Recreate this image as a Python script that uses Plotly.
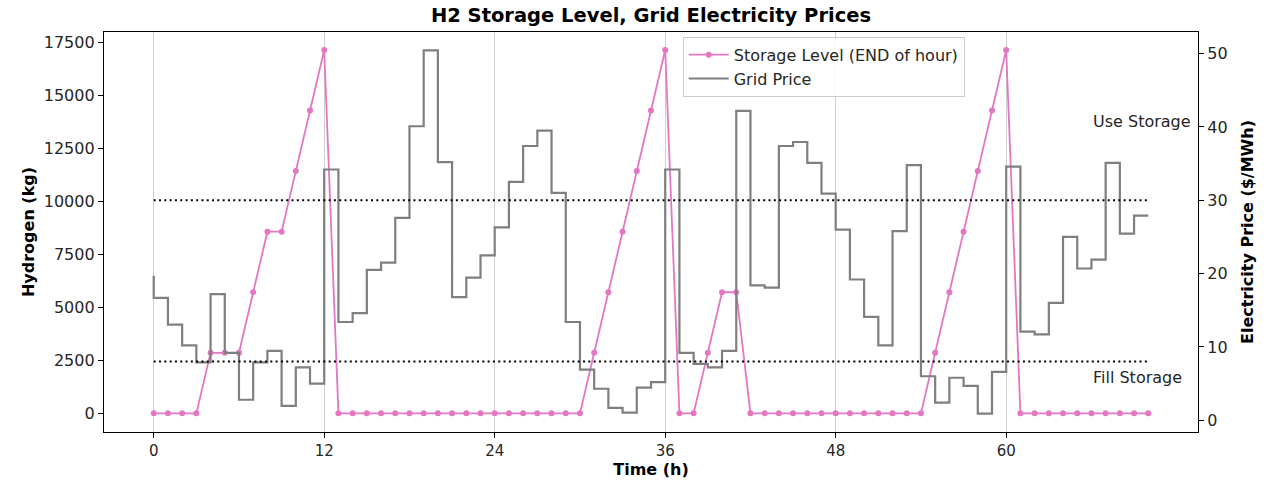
import plotly.graph_objects as go

hours = list(range(71))

storage_kg = [0, 0, 0, 0, 2860, 2860, 2860, 5720, 8580, 8580, 11440, 14300, 17160,
              0, 0, 0, 0, 0, 0, 0, 0, 0, 0, 0, 0, 0, 0, 0, 0, 0, 0,
              2860, 5720, 8580, 11440, 14300, 17160,
              0, 0, 2860, 5720, 5720,
              0, 0, 0, 0, 0, 0, 0, 0, 0, 0, 0, 0, 0,
              2860, 5720, 8580, 11440, 14300, 17160,
              0, 0, 0, 0, 0, 0, 0, 0, 0, 0]

grid_price = [19.7, 16.7, 13.05, 10.2, 7.9, 17.2, 9.2, 2.8, 7.9, 9.45, 1.95, 7.2, 5.0,
              34.2, 13.4, 14.6, 20.5, 21.5, 27.6, 40.1, 50.45, 35.2, 16.8, 19.45, 22.5,
              26.3, 32.5, 37.4, 39.5, 31.0, 13.4, 6.9, 4.3, 1.7, 1.05, 4.45, 5.2,
              34.2, 9.2, 7.7, 7.2, 9.45, 42.2, 18.4, 18.1, 37.4, 37.95, 35.1, 30.9,
              26.0, 19.2, 14.1, 10.2, 25.8, 34.8, 6.0, 2.4, 5.8, 4.7, 0.9, 6.6,
              34.6, 12.1, 11.7, 16.0, 25.0, 20.7, 21.9, 35.1, 25.45, 27.9]

use_threshold = 30
fill_threshold = 8
x_ticks = [0, 12, 24, 36, 48, 60]
h2_ticks = [0, 2500, 5000, 7500, 10000, 12500, 15000, 17500]
price_ticks = [0, 10, 20, 30, 40, 50]

FONT = "DejaVu Sans"
TXT = "#262626"

fig = go.Figure()

fig.add_trace(go.Scatter(
    x=hours, y=storage_kg, mode="lines+markers", name="Storage Level (END of hour)",
    line=dict(color="#e377c2", width=1.8), marker=dict(color="#e377c2", size=6),
    yaxis="y"))

fig.add_trace(go.Scatter(
    x=hours, y=grid_price, mode="lines", name="Grid Price", line_shape="vh",
    line=dict(color="#7f7f7f", width=2.2), yaxis="y2"))

for thr in (use_threshold, fill_threshold):
    fig.add_trace(go.Scatter(
        x=[hours[0], hours[-1]], y=[thr, thr], mode="lines", showlegend=False,
        line=dict(color="black", width=2, dash="2px,3.3px"), yaxis="y2",
        hoverinfo="skip"))

fig.add_annotation(x=66, y=use_threshold + 9.2, xref="x", yref="y2", text="Use Storage",
                   showarrow=False, xanchor="left", yanchor="bottom",
                   font=dict(family=FONT, size=16, color=TXT))
fig.add_annotation(x=66, y=fill_threshold - 3.8, xref="x", yref="y2", text="Fill Storage",
                   showarrow=False, xanchor="left", yanchor="bottom",
                   font=dict(family=FONT, size=16, color=TXT))

fig.update_layout(
    width=1276, height=484,
    margin=dict(l=104, r=78, t=32, b=52),
    paper_bgcolor="white", plot_bgcolor="white",
    font=dict(family=FONT, size=16, color=TXT),
    title=dict(text="<b>H2 Storage Level, Grid Electricity Prices</b>",
               x=0.5, xref="paper", y=1 - 15 / 484, yref="container",
               xanchor="center", yanchor="middle",
               font=dict(family=FONT, size=19.5, color="black")),
    xaxis=dict(range=[-3.5, 73.5], tickvals=x_ticks, showgrid=True, automargin=False,
               gridcolor="#cfcfcf", gridwidth=1, zeroline=False,
               showline=True, linecolor="black", linewidth=1.3, mirror=True,
               ticks="outside", ticklen=5, tickcolor="black",
               tickfont=dict(family=FONT, size=15, color=TXT),
               title=dict(text="<b>Time (h)</b>", standoff=4,
                          font=dict(family=FONT, size=16, color="black"))),
    yaxis=dict(range=[-880, 18010], tickvals=h2_ticks, tickformat="d",
               showgrid=False, zeroline=False, automargin=False,
               showline=True, linecolor="black", linewidth=1.3, mirror=True,
               ticks="outside", ticklen=5, tickcolor="black",
               tickfont=dict(family=FONT, size=16, color=TXT),
               title=dict(text="<b>Hydrogen (kg)</b>", standoff=5,
                          font=dict(family=FONT, size=16, color="black"))),
    yaxis2=dict(range=[-1.6, 52.95], tickvals=price_ticks, automargin=False,
                overlaying="y", side="right", showgrid=False, zeroline=False,
                showline=True, linecolor="black", linewidth=1.3,
                ticks="outside", ticklen=5, tickcolor="black",
                tickfont=dict(family=FONT, size=16, color=TXT),
                title=dict(text="<b>Electricity Price ($/MWh)</b>", standoff=15,
                           font=dict(family=FONT, size=16, color="black"))),
    legend=dict(x=0.529, y=0.988, xanchor="left", yanchor="top",
                bgcolor="rgba(255,255,255,0.8)", bordercolor="#cccccc", borderwidth=1,
                font=dict(family=FONT, size=16, color=TXT), itemwidth=40,
                tracegroupgap=0),
    showlegend=True,
)

fig.write_html("out.html", config={"displayModeBar": False},
               post_script="document.body.style.margin='0';document.body.style.overflow='hidden';")
